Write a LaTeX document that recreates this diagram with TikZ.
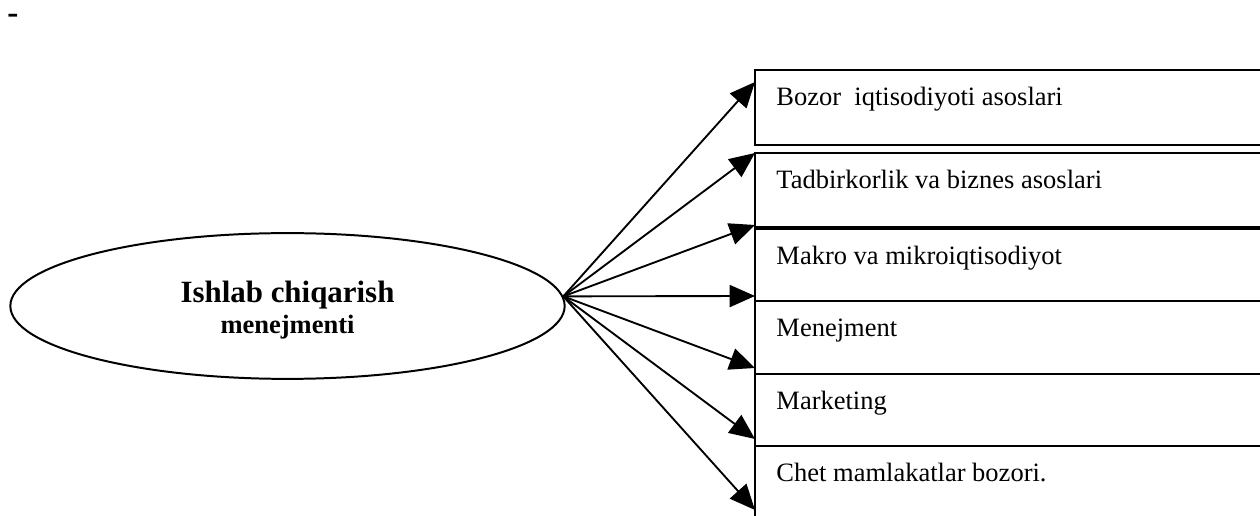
\documentclass[tikz,border=0pt]{standalone}
\usepackage{fontspec}
\setmainfont{Liberation Serif}
\usetikzlibrary{shapes.geometric}
\usetikzlibrary{arrows.meta}

\tikzset{
    fan/.style={-{Triangle[length=11.5pt, width=10pt]}, line width=0.85pt},
    topic/.style={draw, rectangle, line width=0.95pt, anchor=north west, inner sep=0pt, outer sep=0pt, minimum width=280pt},
    topictext/.style={anchor=base west, inner sep=0pt, font=\fontsize{12pt}{14pt}\selectfont},
}

\begin{document}
\begin{tikzpicture}[x=0.4528pt, y=-0.4528pt]
        \useasboundingbox (0,0) rectangle (1260,516);
        \clip (0,0) rectangle (1260,516);

        \node[inner sep=0pt, anchor=base west, font=\fontsize{15pt}{17pt}\selectfont\bfseries] (dash) at (7,24) {-};

        \node[draw, ellipse, line width=0.9pt, minimum width=251pt, minimum height=66pt, inner sep=0pt] (main) at (287.5,306) {};
        \node[inner sep=0pt, align=center] (title) at (287.5,310)
            {{\fontsize{14pt}{16pt}\selectfont\bfseries Ishlab chiqarish}\\[2pt]{\fontsize{12pt}{14pt}\selectfont\bfseries menejmenti}};

        \node[topic, minimum height=34pt] (b1) at (755,70) {};
        \node[topic, minimum height=33.5pt] (b2) at (755,153) {};
        \node[topic, minimum height=32.6pt] (b3) at (755,229) {};
        \node[topic, minimum height=33pt] (b4) at (755,301) {};
        \node[topic, minimum height=32.6pt] (b5) at (755,374) {};
        \node[topic, minimum height=33.5pt] (b6) at (755,446) {};

        \node[topictext] (t1) at ([shift={(21,36)}]b1.north west) {Bozor \ iqtisodiyoti asoslari};
        \node[topictext] (t2) at ([shift={(21,36)}]b2.north west) {Tadbirkorlik va biznes asoslari};
        \node[topictext] (t3) at ([shift={(21,36)}]b3.north west) {Makro va mikroiqtisodiyot};
        \node[topictext] (t4) at ([shift={(21,36)}]b4.north west) {Menejment};
        \node[topictext] (t5) at ([shift={(21,36)}]b5.north west) {Marketing};
        \node[topictext] (t6) at ([shift={(21,36)}]b6.north west) {Chet mamlakatlar bozori.};

        \foreach \i/\ty in {1/82, 2/153, 3/225, 4/296, 5/368, 6/439, 7/510} {
            \coordinate (tip\i) at (755,\ty);
            \draw[fan] (main.2) -- (tip\i);
        }
    \end{tikzpicture}
\end{document}
